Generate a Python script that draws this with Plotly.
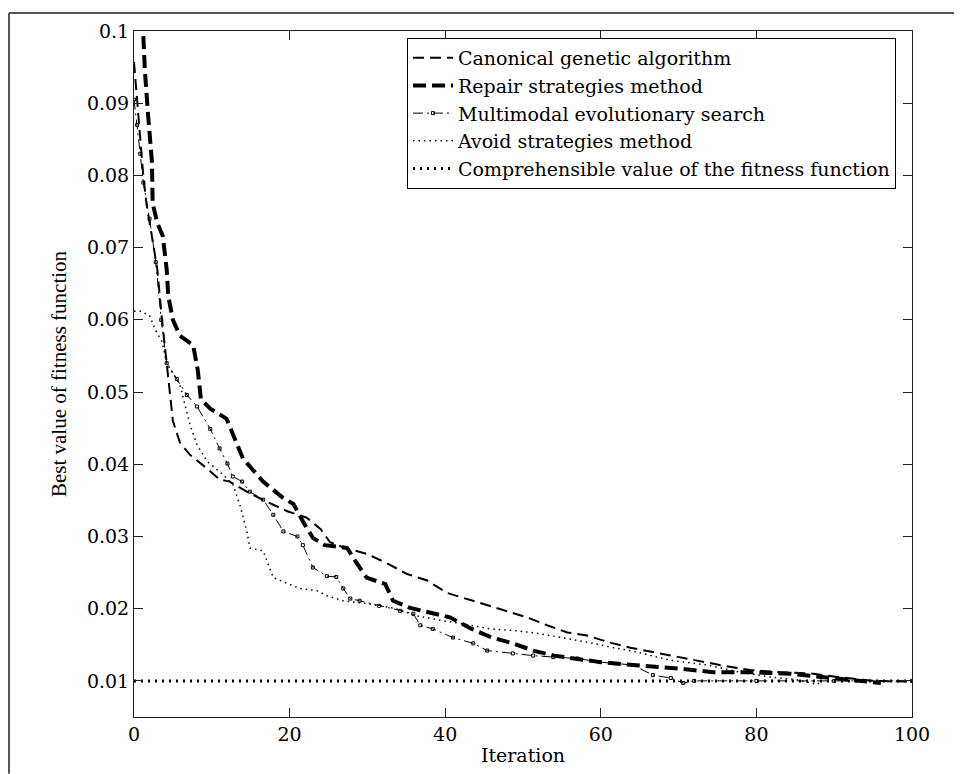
import plotly.graph_objects as go

# ---------------- data ----------------
canonical_x = [0, 0.4, 0.8, 1.2, 1.6, 2.4, 3.0, 3.6, 4.2, 4.6, 5.0, 5.9, 7.2, 9.4, 11.0, 12.3,
               14.5, 17.1, 19.7, 22.2, 24.0, 25.2, 26.9, 29.9, 32.5, 35.1, 37.7, 40.2, 42.3,
               44.9, 47.9, 50.5, 53.1, 55.7, 58.2, 61.2, 63.8, 66.7, 69.3, 72.4, 75.3, 79.2,
               83.0, 87.3, 90.7, 95.0, 100]
canonical_y = [0.0957, 0.0903, 0.0844, 0.0799, 0.0761, 0.0706, 0.0670, 0.0600, 0.0540, 0.0500,
               0.0460, 0.0430, 0.0413, 0.0394, 0.0379, 0.0376, 0.0362, 0.0348, 0.0335, 0.0326,
               0.0310, 0.0292, 0.0285, 0.0276, 0.0263, 0.0248, 0.0239, 0.0222, 0.0215, 0.0207,
               0.0197, 0.0188, 0.0177, 0.0167, 0.0163, 0.0153, 0.0146, 0.0140, 0.0135, 0.0128,
               0.0122, 0.0115, 0.0112, 0.0110, 0.0105, 0.0100, 0.0099]

repair_x = [1.2, 1.4, 1.8, 2.3, 2.4, 3.0, 3.7, 4.2, 4.4, 5.0, 5.9, 7.6, 8.2, 8.6, 9.8, 11.9,
            14.0, 16.6, 19.2, 20.5, 21.7, 23.0, 24.5, 27.4, 28.2, 29.9, 32.3, 33.3, 35.5, 38.0,
            40.6, 43.4, 46.0, 48.7, 51.3, 54.0, 56.4, 59.9, 64.1, 70.2, 74.4, 79.2, 84.3, 90.0,
            94.0, 96.0]
repair_y = [0.0993, 0.0945, 0.0885, 0.0820, 0.0761, 0.0734, 0.0716, 0.0670, 0.0633, 0.0600,
            0.0578, 0.0565, 0.0530, 0.0490, 0.0477, 0.0463, 0.0408, 0.0376, 0.0353, 0.0345,
            0.0321, 0.0298, 0.0288, 0.0284, 0.0270, 0.0243, 0.0234, 0.0211, 0.0201, 0.0194,
            0.0188, 0.0172, 0.0160, 0.0152, 0.0142, 0.0135, 0.0131, 0.0126, 0.0122, 0.0117,
            0.0112, 0.0112, 0.0110, 0.0104, 0.0100, 0.0097]

multimodal_x = [0, 0.4, 0.8, 1.2, 2.0, 2.8, 3.5, 4.2, 5.5, 6.8, 8.1, 9.8, 11.0, 12.0, 12.7,
                13.9, 14.9, 16.6, 17.9, 19.2, 21.0, 21.7, 23.0, 24.8, 26.0, 26.9, 27.8, 29.0,
                31.5, 34.2, 35.9, 36.8, 38.4, 41.0, 43.6, 45.4, 48.7, 51.3, 53.9, 57.0, 59.9,
                64.1, 66.7, 69.0, 70.6, 72.0, 80.0, 90.0, 100]
multimodal_y = [0.0905, 0.0870, 0.0830, 0.0790, 0.0740, 0.0680, 0.0600, 0.0540, 0.0518, 0.0496,
                0.0480, 0.0449, 0.0422, 0.0401, 0.0383, 0.0376, 0.0362, 0.0351, 0.0330, 0.0307,
                0.0300, 0.0288, 0.0257, 0.0245, 0.0244, 0.0228, 0.0214, 0.0211, 0.0204, 0.0197,
                0.0193, 0.0177, 0.0172, 0.0160, 0.0152, 0.0142, 0.0138, 0.0135, 0.0133, 0.0131,
                0.0126, 0.0122, 0.0108, 0.0104, 0.0097, 0.0100, 0.0100, 0.0100, 0.0100]

avoid_x = [0, 0.8, 2.0, 2.7, 3.6, 4.2, 5.9, 6.6, 7.2, 8.1, 9.4, 11.4, 12.7, 13.6, 14.5, 14.9,
           16.6, 17.9, 20.0, 21.3, 23.5, 24.8, 26.9, 29.9, 33.3, 36.4, 39.3, 42.3, 45.8, 48.7,
           51.8, 55.1, 58.6, 61.6, 64.7, 67.2, 69.3, 73.7, 77.9, 82.1, 85.0, 87.8, 88.5]
avoid_y = [0.0612, 0.0612, 0.0606, 0.0587, 0.0570, 0.0540, 0.0510, 0.0480, 0.0455, 0.0427,
           0.0404, 0.0386, 0.0372, 0.0344, 0.0307, 0.0284, 0.0280, 0.0243, 0.0234, 0.0228,
           0.0225, 0.0218, 0.0211, 0.0207, 0.0201, 0.0190, 0.0184, 0.0179, 0.0172, 0.0170,
           0.0166, 0.0160, 0.0153, 0.0146, 0.0140, 0.0133, 0.0128, 0.0122, 0.0112, 0.0105,
           0.0102, 0.0095, 0.0100]

target_x = [0, 100]
target_y = [0.01, 0.01]

series_names = ["Canonical genetic algorithm", "Repair strategies method",
                "Multimodal evolutionary search", "Avoid strategies method",
                "Comprehensible value of the fitness function"]

y_tickvals = [0.01, 0.02, 0.03, 0.04, 0.05, 0.06, 0.07, 0.08, 0.09, 0.1]
y_ticktext = ["0.01", "0.02", "0.03", "0.04", "0.05", "0.06", "0.07", "0.08", "0.09", "0.1"]
x_tickvals = [0, 20, 40, 60, 80, 100]

# ---------------- figure ----------------
SERIF = "DejaVu Serif"
fig = go.Figure()

fig.add_trace(go.Scatter(x=canonical_x, y=canonical_y, mode="lines", name=series_names[0],
                         line=dict(color="black", width=2, dash="11px,6px")))
fig.add_trace(go.Scatter(x=repair_x, y=repair_y, mode="lines", name=series_names[1],
                         line=dict(color="black", width=4, dash="13px,6px")))
fig.add_trace(go.Scatter(x=multimodal_x, y=multimodal_y, mode="lines+markers", name=series_names[2],
                         line=dict(color="black", width=1, dash="10px,4px,2px,4px"),
                         marker=dict(symbol="square-open", size=3, color="black",
                                     line=dict(width=1, color="black"))))
fig.add_trace(go.Scatter(x=avoid_x, y=avoid_y, mode="lines", name=series_names[3],
                         line=dict(color="black", width=1.5, dash="1.5px,4px")))
fig.add_trace(go.Scatter(x=target_x, y=target_y, mode="lines", name=series_names[4],
                         line=dict(color="black", width=3, dash="2px,5px")))

axis_common = dict(showline=True, linecolor="#222", linewidth=1, mirror="ticks",
                   ticks="inside", ticklen=9, tickcolor="#222", showgrid=False,
                   zeroline=False, tickfont=dict(family=SERIF, size=19, color="black"))

fig.update_xaxes(range=[0, 100], tickvals=x_tickvals,
                 title=dict(text="Iteration", font=dict(family=SERIF, size=19, color="black"),
                            standoff=4),
                 **axis_common)
fig.update_yaxes(range=[0.005, 0.1], tickvals=y_tickvals, ticktext=y_ticktext,
                 title=dict(text="Best value of fitness function",
                            font=dict(family="Liberation Serif", size=21, color="black"),
                            standoff=14),
                 **axis_common)

fig.update_layout(
    width=954, height=766,
    margin=dict(l=126, r=50, t=19, b=57),
    paper_bgcolor="white", plot_bgcolor="white",
    showlegend=True,
    legend=dict(x=0.9794, y=0.99, xanchor="right", yanchor="top",
                bgcolor="white", bordercolor="black", borderwidth=1,
                font=dict(family=SERIF, size=19, color="black"),
                tracegroupgap=0, itemwidth=40),
    shapes=[
        dict(type="line", xref="paper", yref="paper", x0=-0.1607, x1=1.059, y0=1.0261, y1=1.0261,
             line=dict(color="#555", width=2)),
        dict(type="line", xref="paper", yref="paper", x0=-0.1607, x1=-0.1607, y0=1.0261, y1=-0.0826,
             line=dict(color="#555", width=2)),
    ],
)

fig.write_html("out.html")
